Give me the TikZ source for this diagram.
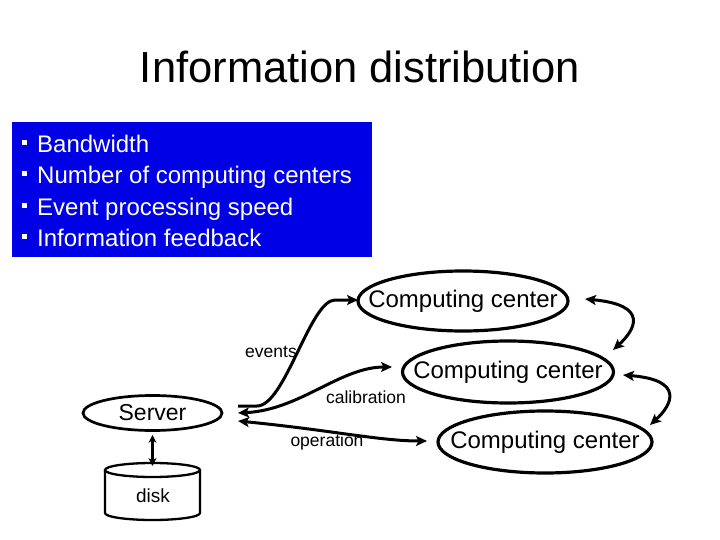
\documentclass[tikz,border=0pt]{standalone}
\usepackage{fontspec}
\setmainfont{Liberation Sans}
\usetikzlibrary{shapes.geometric,arrows.meta}
\definecolor{boxblue}{RGB}{0,0,230}
\begin{document}
\begin{tikzpicture}[x=1pt,y=-1pt,
  ccnode/.style={ellipse,draw,line width=3.2pt,inner xsep=-40pt,inner ysep=0pt,font=\fontsize{24}{28}\selectfont},
  bullettext/.style={anchor=base west,inner sep=0pt,text=white,font=\fontsize{24}{28}\selectfont},
  bulletsq/.style={fill=white,inner sep=0pt,minimum size=5pt},
  lbl/.style={inner sep=0pt,font=\fontsize{17.5}{20}\selectfont},
  tipA/.tip={Stealth[length=11pt,width=10pt,inset=2.5pt]},
  conn/.style={line width=3pt,-tipA},
  dconn/.style={line width=3pt,tipA-tipA}]
\useasboundingbox (0,0) rectangle (720,540);
\fill[white] (0,0) rectangle (720,540);

% title
\node[anchor=base,inner sep=0pt,font=\fontsize{43.5}{48}\selectfont] (title) at (360,82.7) {Information distribution};

% blue box with bullets
\node[fill=boxblue,inner sep=0pt,minimum width=360pt,minimum height=135pt] (box) at (192,189.5) {};
\node[bulletsq] (q1) at (24.5,142.7) {};
\node[bulletsq] (q2) at (24.5,174.0) {};
\node[bulletsq] (q3) at (24.5,205.3) {};
\node[bulletsq] (q4) at (24.5,236.7) {};
\node[bullettext] (b1) at (37,152.7) {Bandwidth};
\node[bullettext] (b2) at (37,184.0) {Number of computing centers};
\node[bullettext] (b3) at (37,215.3) {Event processing speed};
\node[bullettext] (b4) at (37,246.7) {Information feedback};

% computing centers
\node[ccnode,minimum width=210pt,minimum height=60pt] (cc1) at (463,301) {Computing center};
\node[ccnode,minimum width=211pt,minimum height=62pt] (cc2) at (508,372) {Computing center};
\node[ccnode,minimum width=214pt,minimum height=62pt] (cc3) at (545,442) {Computing center};

% server and disk
\node[ellipse,draw,line width=2.7pt,inner sep=0pt,minimum width=139pt,minimum height=35pt,
      font=\fontsize{23}{26}\selectfont] (server) at (152.5,413) {Server};
\node[inner sep=0pt,font=\fontsize{19}{22}\selectfont] (disk) at (153,496) {disk};
\draw[line width=2.3pt] (105,470) -- (105,513) arc[start angle=180,end angle=360,x radius=47.5pt,y radius=7pt] -- (200,470);
\draw[line width=2.3pt] (152.5,470) ellipse[x radius=47.5pt,y radius=7pt];
\coordinate (disktop) at (152.5,463);
\draw[line width=2.3pt,{Stealth[length=8pt,width=8pt]}-{Stealth[length=8pt,width=8pt]}] ([yshift=-3pt]server.south) -- ([yshift=-3pt]disktop);

% labels
\node[lbl] (lev) at (271,352) {events};
\node[lbl] (lcal) at (366,397) {calibration};
\node[lbl] (lop) at (327,442) {operation};

% server side end points
\coordinate (s1) at (238,406);
\coordinate (s1b) at (257,406);
\coordinate (s2) at (238,413);
\coordinate (s3) at (238,421);
\coordinate (e1) at (358,300);
\coordinate (e2) at (392,367);
\coordinate (e3) at (427,441);

\draw[conn] (s1) -- (s1b) .. controls (285,406) and (310,300) .. (335,300) -- (e1);
\draw[dconn] (s2) .. controls (300,410) and (340,367) .. (e2);
\draw[dconn] (s3) .. controls (330,430) and (380,441) .. (e3);

% feedback arrows between centers
\coordinate (fa1) at (585,299);
\coordinate (fa2) at (613,350);
\coordinate (fb1) at (623,375);
\coordinate (fb2) at (650,425);
\draw[dconn] (fa1) .. controls (650,305) and (635,330) .. (fa2);
\draw[dconn] (fb1) .. controls (685,380) and (672,405) .. (fb2);
\end{tikzpicture}
\end{document}
